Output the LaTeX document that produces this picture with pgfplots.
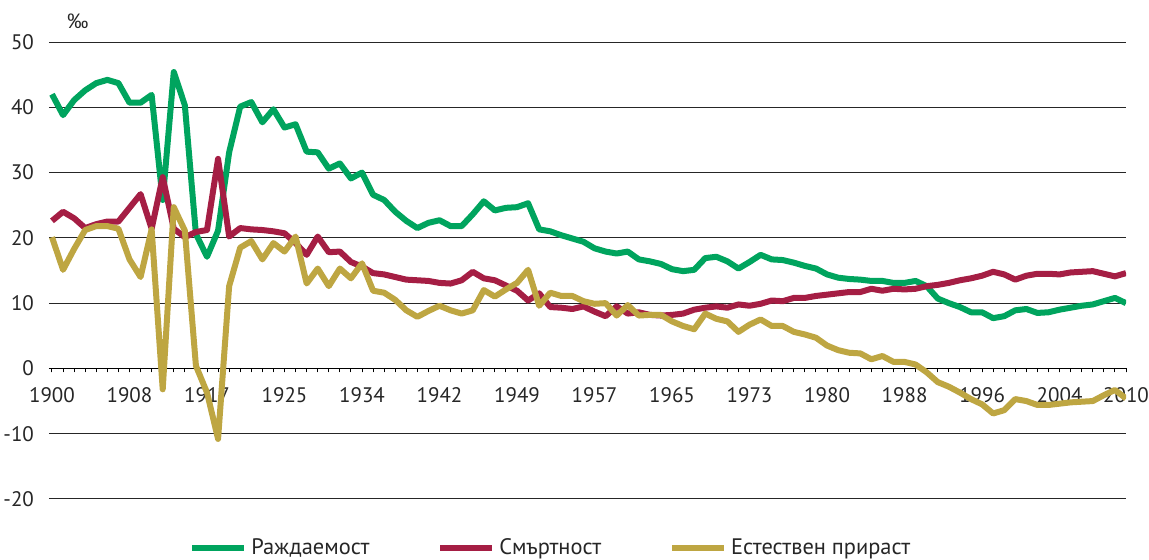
\documentclass[border=0pt]{standalone}
\usepackage{fontspec}
\setmainfont{PT Sans}
\newfontfamily\symfont{Liberation Sans}
\usepackage{pgfplots}
\pgfplotsset{compat=1.18}
\usepackage{pgfplotstable}

\definecolor{birth}{RGB}{0,164,94}
\definecolor{death}{RGB}{165,30,68}
\definecolor{natinc}{RGB}{190,166,66}

% i = category index (labels every 7th), b = births, d = deaths, n = natural increase (per mille)
\pgfplotstableread{
i  b     d     n
0  42.0  22.6  20.1
1  38.8  24.0  15.1
2  41.1  23.0  18.3
3  42.6  21.5  21.2
4  43.7  22.1  21.8
5  44.2  22.5  21.8
6  43.7  22.5  21.4
7  40.7  24.6  16.7
8  40.7  26.7  14.0
9  41.9  21.4  21.3
10 25.8  29.3  -3.2
11 45.4  21.4  24.7
12 40.3  20.1  21.1
13 20.6  20.9  0.4
14 17.1  21.2  -3.7
15 21.1  32.1  -10.8
16 33.1  20.2  12.6
17 40.1  21.5  18.5
18 40.8  21.3  19.5
19 37.7  21.2  16.7
20 39.7  21.0  19.2
21 36.9  20.7  17.9
22 37.4  19.2  20.2
23 33.2  17.4  13.0
24 33.1  20.2  15.3
25 30.6  17.8  12.6
26 31.4  17.9  15.3
27 29.1  16.3  13.8
28 30.0  15.6  16.1
29 26.6  14.6  11.9
30 25.8  14.4  11.6
31 24.0  14.0  10.5
32 22.6  13.6  8.9
33 21.5  13.5  7.9
34 22.3  13.4  8.8
35 22.7  13.1  9.6
36 21.8  13.0  8.9
37 21.8  13.5  8.4
38 23.6  14.8  8.9
39 25.6  13.8  12.0
40 24.2  13.5  11.0
41 24.6  12.7  12.1
42 24.7  11.9  13.1
43 25.3  10.4  15.1
44 21.3  11.5  9.6
45 21.0  9.4   11.6
46 20.4  9.3   11.1
47 19.9  9.1   11.1
48 19.4  9.5   10.3
49 18.4  8.7   9.9
50 17.9  8.0   10.0
51 17.6  9.5   8.1
52 17.9  8.4   9.7
53 16.7  8.6   8.1
54 16.4  8.2   8.2
55 16.0  8.1   8.2
56 15.2  8.2   7.2
57 14.9  8.4   6.5
58 15.1  9.0   6.0
59 16.9  9.3   8.4
60 17.1  9.5   7.6
61 16.4  9.3   7.2
62 15.3  9.8   5.6
63 16.3  9.6   6.7
64 17.4  9.9   7.5
65 16.7  10.4  6.5
66 16.6  10.3  6.5
67 16.2  10.8  5.6
68 15.7  10.8  5.2
69 15.3  11.1  4.7
70 14.4  11.3  3.5
71 13.9  11.5  2.8
72 13.7  11.7  2.4
73 13.6  11.7  2.3
74 13.4  12.2  1.4
75 13.4  11.9  1.9
76 13.1  12.2  1.0
77 13.1  12.1  1.0
78 13.4  12.2  0.6
79 12.6  12.6  -0.6
80 10.7  12.8  -2.1
81 10.0  13.1  -2.8
82 9.4   13.5  -3.7
83 8.6   13.8  -4.7
84 8.6   14.2  -5.5
85 7.7   14.8  -6.9
86 8.0   14.4  -6.4
87 8.9   13.6  -4.7
88 9.1   14.2  -5.0
89 8.5   14.5  -5.6
90 8.6   14.5  -5.6
91 9.0   14.4  -5.4
92 9.3   14.7  -5.2
93 9.6   14.8  -5.1
94 9.8   14.9  -5.0
95 10.3  14.5  -4.1
96 10.8  14.1  -3.3
97 10.0  14.6  -4.6
}\demog

\begin{document}
\begin{tikzpicture}
\begin{axis}[
  scale only axis,
  width=538.5pt, height=228.5pt,
  xmin=-0.27, xmax=97,
  ymin=-20, ymax=50,
  axis x line*=middle,
  axis y line*=left,
  y axis line style={draw=none},
  x axis line style={black, line width=0.6pt},
  hide obscured x ticks=false,
  hide obscured y ticks=false,
  ytick={-20,-10,0,10,20,30,40,50},
  yticklabels={-20,-10,0,10,20,30,40,50},
  ytick style={draw=none},
  yticklabel style={xshift=-2pt},
  ymajorgrids,
  grid style={black!85, line width=0.5pt},
  xtick={0,7,14,21,28,35,42,49,56,63,70,77,84,91,97},
  xticklabels={1900,1908,1917,1925,1934,1942,1949,1957,1965,1973,1980,1988,1996,2004,2010},
  minor xtick={0,1,...,97},
  tick align=outside,
  major tick length=2pt, minor tick length=2pt,
  xtick style={black, line width=0.5pt},
  minor x tick style={black, line width=0.5pt},
  xticklabel style={yshift=-4pt},
  tick label style={font=\fontsize{10.5}{12}\selectfont, text=black!85},
  legend columns=3,
  legend style={at={(rel axis cs:0.1300,-0.107)}, anchor=west, draw=none, fill=none,
    inner sep=0pt, font=\fontsize{11.2}{13}\selectfont, text=black!85,
    /tikz/every even column/.append style={column sep=32pt}},
  legend image code/.code={\draw[#1, line cap=butt] (0pt,0pt) -- (26pt,0pt);},
  every axis plot/.append style={line width=3pt, line join=round},
]
\addplot[birth] table[x=i, y=b] {\demog};
\addlegendentry{Раждаемост}
\addplot[death] table[x=i, y=d] {\demog};
\addlegendentry{Смъртност}
\addplot[natinc] table[x=i, y=n] {\demog};
\addlegendentry{Естествен прираст}
\coordinate (bl) at (rel axis cs:0,0);
\coordinate (tr) at (rel axis cs:1,1);
\coordinate (pm) at (rel axis cs:0,1);
\end{axis}
\node[font=\symfont\fontsize{10.5}{12}\selectfont, text=black!85] at ([shift={(14.5pt,10.5pt)}]pm) {‰};
\pgfresetboundingbox
\path ([shift={(-24.5pt,-30.5pt)}]bl) rectangle ([shift={(11.5pt,21pt)}]tr);
\end{tikzpicture}
\end{document}
